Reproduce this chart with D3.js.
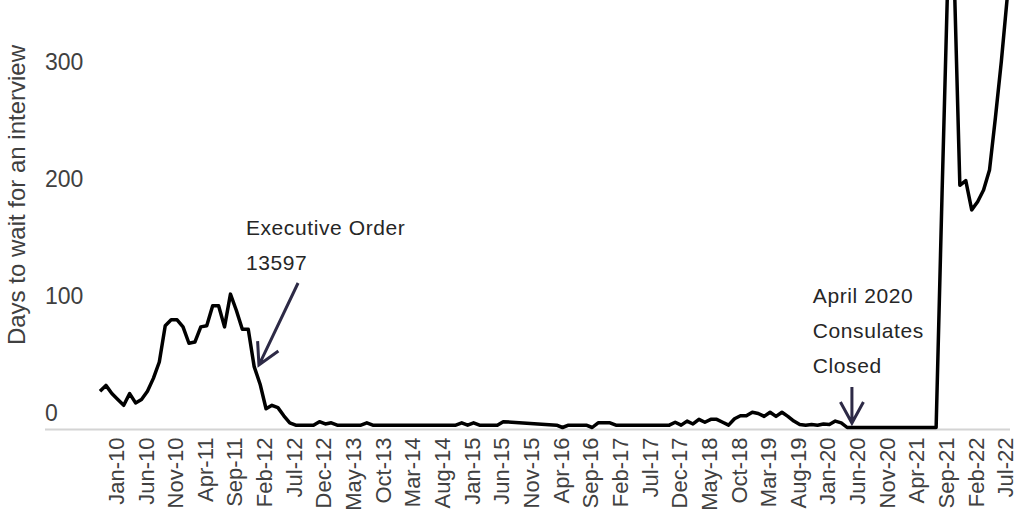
<!DOCTYPE html>
<html>
<head>
<meta charset="utf-8">
<script src="https://cdn.jsdelivr.net/npm/d3@7"></script>
<style>
  body { margin: 0; background: #fff; }
  svg { display: block; font-family: "Liberation Sans", Arial, sans-serif; }
</style>
</head>
<body>
<div id="chart"></div>
<script>
const WIDTH = 1024
const HEIGHT = 512

const fmt = d3.timeFormat('%b-%y')
// one category per month, Nov-09 .. Aug-22
const months = d3.timeMonth.range(new Date(2009, 10, 1), new Date(2022, 8, 1)).map(fmt)

// days to wait, null = no reading (line just joins across)
const waitDays = [
  31, 36,                                                   // Nov-Dec 09
  29, 24, 19, 29, 21, 24, 31, 42, 56, 87, 92, 92,           // 2010
  86, 72, 73, 86, 87, 104, 104, 86, 114, 100, 84, 84,       // 2011
  52, 37, 16, 19, 17, 10, 4, 2, 2, 2, 2, 5,                 // 2012
  3, 4, 2, 2, 2, 2, 2, 4, 2, 2, 2, 2,                       // 2013
  2, 2, 2, 2, 2, 2, 2, 2, 2, 2, 2, 4,                       // 2014
  2, 4, 2, 2, 2, 2, 5, null, null, null, null, null,        // 2015
  null, null, null, 2, 0, 2, 2, 2, 2, 0, 4, 4,              // 2016
  4, 2, 2, 2, 2, 2, 2, 2, 2, 2, 2, 4.5,                     // 2017
  2, 5.5, 3, 7, 4.5, 7, 7, 4.5, 2, 7.5, 10, 10,             // 2018
  13, 12, 9.5, 13, 9.5, 13, 9.5, 5.5, 2.5, 2, 2.5, 2,       // 2019
  3, 2.5, 5.5, 4, 0, 0, 0, 0, 0, 0, 0, 0,                   // 2020
  0, 0, 0, 0, 0, 0, 0, 0, 200, 390, 395, 207,               // 2021
  211, 186, 193, 203, 220, 265, 313, 368                    // 2022
]

const tickLabels = ['Jan-10', 'Jun-10', 'Nov-10', 'Apr-11', 'Sep-11', 'Feb-12', 'Jul-12', 'Dec-12',
  'May-13', 'Oct-13', 'Mar-14', 'Aug-14', 'Jan-15', 'Jun-15', 'Nov-15', 'Apr-16', 'Sep-16',
  'Feb-17', 'Jul-17', 'Dec-17', 'May-18', 'Oct-18', 'Mar-19', 'Aug-19', 'Jan-20', 'Jun-20',
  'Nov-20', 'Apr-21', 'Sep-21', 'Feb-22', 'Jul-22']
const yTicks = [0, 100, 200, 300]
const yTitle = 'Days to wait for an interview'

// notes: text anchor and arrow ends as [month index, days]
const notes = [
  { lines: ['Executive Order', '13597'], at: [24.6, 164.5], tail: [33.4, 123.5], tip: [26.8, 53.4] },
  { lines: ['April 2020', 'Consulates', 'Closed'], at: [120.2, 106.4], tail: [126.8, 34.6], tip: [126.8, 3.8] }
]

const svg = d3.select('#chart').append('svg')
  .attr('width', WIDTH)
  .attr('height', HEIGHT)

const x = d3.scalePoint()
  .domain(months)
  .range([100, 100 + (months.length - 1) * 5.93])
const xAt = i => x(months[0]) + i * x.step()

const y = d3.scaleLinear()
  .domain([0, 300])
  .range([427.5, 76.5])

const axisY = y(0) + 2

// baseline
svg.append('line')
  .attr('x1', 45).attr('x2', 1010)
  .attr('y1', axisY).attr('y2', axisY)
  .attr('stroke', '#d4d4d4')
  .attr('stroke-width', 2)

// x axis, rotated labels
svg.append('g')
  .attr('transform', `translate(0,${axisY})`)
  .call(d3.axisBottom(x).tickValues(tickLabels).tickSize(0))
  .call(g => g.select('.domain').remove())
  .attr('font-family', '"Liberation Sans", Arial, sans-serif')
  .attr('font-size', 22)
  .selectAll('text')
  .attr('transform', 'rotate(-90)')
  .attr('text-anchor', 'end')
  .attr('x', -8)
  .attr('y', 0)
  .attr('dy', 11.5)
  .attr('fill', '#404040')

// y labels sit left-aligned, a bit above their value
svg.append('g')
  .attr('transform', 'translate(45,0)')
  .call(d3.axisRight(y).tickValues(yTicks).tickSize(0).tickPadding(0))
  .call(g => g.select('.domain').remove())
  .attr('font-family', '"Liberation Sans", Arial, sans-serif')
  .attr('font-size', 23)
  .selectAll('text')
  .attr('y', -14)
  .attr('fill', '#404040')

svg.append('text')
  .attr('transform', 'translate(25,195) rotate(-90)')
  .attr('text-anchor', 'middle')
  .attr('font-size', 24)
  .attr('fill', '#404040')
  .text(yTitle)

// the series
const points = months.map((m, i) => ({ m, v: waitDays[i] })).filter(d => d.v != null)

svg.append('clipPath').attr('id', 'plot')
  .append('rect').attr('x', 0).attr('y', 0).attr('width', WIDTH).attr('height', HEIGHT)

svg.append('path')
  .datum(points)
  .attr('clip-path', 'url(#plot)')
  .attr('fill', 'none')
  .attr('stroke', '#000')
  .attr('stroke-width', 3.5)
  .attr('stroke-linejoin', 'round')
  .attr('d', d3.line().x(d => x(d.m)).y(d => y(d.v)))

// annotations
const ARROW = '#2d2a46'
const noteG = svg.selectAll('g.note')
  .data(notes)
  .enter().append('g')
  .attr('class', 'note')

noteG.append('text')
  .attr('font-size', 21)
  .attr('letter-spacing', 0.6)
  .attr('fill', '#262626')
  .selectAll('tspan')
  .data(d => d.lines.map((t, k) => ({ t, k, d })))
  .enter().append('tspan')
  .attr('x', o => xAt(o.d.at[0]))
  .attr('y', o => y(o.d.at[1]) + o.k * 35)
  .text(o => o.t)

noteG.append('path')
  .attr('fill', 'none')
  .attr('stroke', ARROW)
  .attr('stroke-width', 3)
  .attr('d', d => {
    const x0 = xAt(d.tail[0]), y0 = y(d.tail[1])
    const x1 = xAt(d.tip[0]), y1 = y(d.tip[1])
    const a = Math.atan2(y0 - y1, x0 - x1)
    const L = 24, h = 0.5
    const p1 = [x1 + L * Math.cos(a - h), y1 + L * Math.sin(a - h)]
    const p2 = [x1 + L * Math.cos(a + h), y1 + L * Math.sin(a + h)]
    return `M${x0},${y0}L${x1},${y1}M${p1}L${x1},${y1}L${p2}`
  })
</script>
</body>
</html>
